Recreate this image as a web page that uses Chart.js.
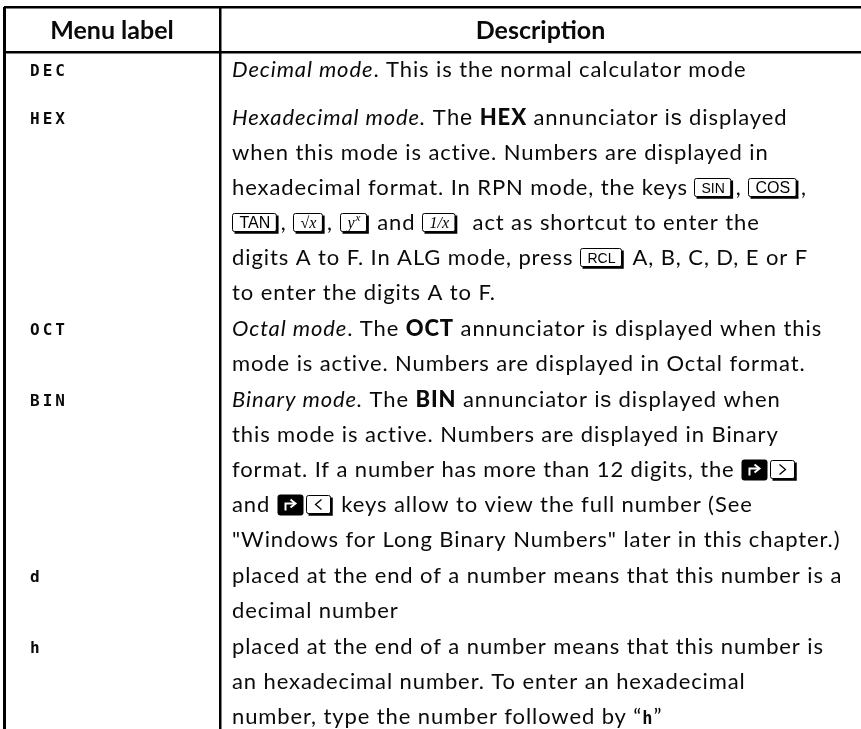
<!DOCTYPE html>
<html lang="en">
<head>
  <meta charset="UTF-8" />
  <title>Menu labels - number base modes</title>
  <script src="https://cdn.jsdelivr.net/npm/chart.js"></script>
  <style>
    html, body {
      margin: 0;
      padding: 0;
      background: #fff;
    }

    .chart-box {
      position: relative;
      width: 861px;
      height: 729px;
    }
  </style>
</head>
<body>
  <div class="chart-box">
    <canvas id="menuTable"></canvas>
  </div>

  <script>
    // --- data -------------------------------------------------------------
    const headers = ["Menu label", "Description"];

    const menuLabels = ["DEC", "HEX", "OCT", "BIN", "d", "h"];

    // one entry per row, broken into the same lines as the page.
    // plain strings, {i} italic, {b} bold, {a} other face, {lcd} display face,
    // {k} key, {m} math key (+ sup), {shift} shift key, {arrow} cursor key
    const descriptions = [
      [
        [{ i: "Decimal mode" }, ". This is the normal calculator mode"]
      ],
      [
        [{ i: "Hexadecimal mode." }, " ", { a: "The" }, " ", { b: "HEX" }, " annunciator ", { a: "is" }, " displayed"],
        ["when this mode is active. Numbers are displayed in"],
        ["hexadecimal format. In RPN mode, the keys ", { k: "SIN" }, ", ", { k: "COS", big: true }, ","],
        [{ k: "TAN", big: true }, ", ", { m: "\u221Ax" }, ", ", { m: "y", sup: "x" }, " and ", { m: "1/x" }, "  act as shortcut to enter the"],
        ["digits A to F. In ALG mode, press ", { k: "RCL" }, " A, B, C, D, E or F"],
        ["to enter the digits A to F."]
      ],
      [
        [{ i: "Octal mode" }, ". The ", { b: "OCT" }, " annunciator is displayed when this"],
        ["mode is active. Numbers are displayed in Octal format."]
      ],
      [
        [{ i: "Binary mode." }, " The ", { b: "BIN" }, " annunciator ", { a: "is" }, " displayed when"],
        ["this mode is active. Numbers are displayed in Binary"],
        ["format. If a number has more than 12 digits, the ", { shift: true }, { arrow: ">" }],
        ["and ", { shift: true }, { arrow: "<" }, " keys allow to view the full number (See"],
        ["\"Windows for Long Binary Numbers\" later in this chapter.)"]
      ],
      [
        ["placed at the end of a number means that this number is a"],
        ["decimal number"]
      ],
      [
        ["placed at the end of a number means that this number is"],
        ["an hexadecimal number. To enter an hexadecimal"],
        ["number, type the number followed by \u201C", { lcd: "h" }, "\u201D"]
      ]
    ];

    // --- layout -----------------------------------------------------------
    const pageW = 861, pageH = 729;
    const tableTop = 7, tableLeft = 4;
    const colDivider = 216;      // from the left border
    const headerH = 45;
    const firstLine = 63;        // centre of first body line, from table top
    const lineH = 35;
    const rowGaps = [13, 1, 1, 1, 1];

    const TXT = '#0a0a0a';
    const descFont = '22px Lato';
    const descSpacing = '0.9px';

    function segFont(s) {
      if (s.i) return 'italic 22px Lato';
      if (s.b) return '900 22px Lato';
      if (s.a) return '22px "Liberation Sans"';
      if (s.lcd) return 'bold 17px "DejaVu Sans Mono"';
      return descFont;
    }

    function drawKey(ctx, s, x, cy) {
      const h = 18;
      const top = Math.round(cy - 10) + 0.5;
      const left = Math.round(x) + 0.5;
      let w;
      ctx.save();
      ctx.letterSpacing = '0px';
      if (s.shift || s.arrow) {
        w = 26;
      } else {
        ctx.font = s.m ? 'italic 16px "Liberation Serif"'
          : (s.big ? '16px "Liberation Sans"' : '14px "Liberation Sans"');
        w = ctx.measureText(s.m || s.k).width + (s.sup ? 6 : 0) + 15;
      }
      if (s.shift) {
        ctx.fillStyle = '#000';
        ctx.beginPath();
        ctx.roundRect(left, top - 1, w, h + 3, 3);
        ctx.fill();
        ctx.strokeStyle = '#fff';
        ctx.lineWidth = 2;
        ctx.beginPath();
        ctx.moveTo(left + 8, top + h - 3);
        ctx.lineTo(left + 8, top + 8);
        ctx.lineTo(left + w - 9, top + 8);
        ctx.stroke();
        ctx.beginPath();
        ctx.moveTo(left + w - 13, top + 4);
        ctx.lineTo(left + w - 8, top + 8);
        ctx.lineTo(left + w - 13, top + 12);
        ctx.stroke();
      } else {
        ctx.strokeStyle = '#000';
        ctx.lineWidth = 1;
        ctx.beginPath();
        ctx.roundRect(left, top, w - 2, h, 2);
        ctx.stroke();
        ctx.lineWidth = 2.5;
        ctx.beginPath();
        ctx.moveTo(left + w - 1, top + 2);
        ctx.lineTo(left + w - 1, top + h + 1);
        ctx.lineTo(left + 2, top + h + 1);
        ctx.stroke();
        ctx.fillStyle = '#000';
        if (s.arrow) {
          ctx.lineWidth = 1.3;
          const mx = left + w / 2 - 1, my = top + h / 2;
          const d = s.arrow === '>' ? 1 : -1;
          ctx.beginPath();
          ctx.moveTo(mx - 3 * d, my - 5);
          ctx.lineTo(mx + 3 * d, my);
          ctx.lineTo(mx - 3 * d, my + 5);
          ctx.stroke();
        } else {
          ctx.textBaseline = 'alphabetic';
          const t = s.m || s.k;
          const base = top + h - 4;
          ctx.fillText(t, left + 7, base);
          if (s.sup) {
            const tw = ctx.measureText(t).width;
            ctx.font = 'italic 11px "Liberation Serif"';
            ctx.fillText(s.sup, left + 7 + tw + 1, base - 7);
          }
        }
      }
      ctx.restore();
      return w + 3;
    }

    function drawRich(ctx, segs, x, cy) {
      const base = cy + 7;
      ctx.letterSpacing = descSpacing;
      for (const s of segs) {
        if (typeof s === 'string') {
          ctx.font = descFont;
          ctx.fillText(s, x, base);
          x += ctx.measureText(s).width;
        } else if (s.i || s.b || s.a || s.lcd) {
          const t = s.i || s.b || s.a || s.lcd;
          ctx.font = segFont(s);
          ctx.fillText(t, x, base);
          x += ctx.measureText(t).width;
        } else {
          x += drawKey(ctx, s, x, cy);
        }
      }
      ctx.letterSpacing = '0px';
    }

    // draws header, labels and descriptions at positions taken from the scales
    const tableText = {
      id: 'tableText',
      afterDraw(chart) {
        const { ctx, scales: { x, y } } = chart;
        ctx.save();
        ctx.fillStyle = TXT;
        ctx.textBaseline = 'alphabetic';

        // header
        ctx.font = 'bold 25px Lato';
        ctx.textAlign = 'center';
        const hy = y.getPixelForValue(headerH / 2) + 9;
        ctx.fillText(headers[0], (x.getPixelForValue(0) + x.getPixelForValue(colDivider)) / 2, hy);
        ctx.fillText(headers[1], (x.getPixelForValue(colDivider) + x.right) / 2, hy);
        ctx.textAlign = 'left';

        const labelX = x.getPixelForValue(26);
        const descX = x.getPixelForValue(colDivider + 12);
        let v = firstLine;
        menuLabels.forEach((label, r) => {
          if (r > 0) v += rowGaps[r - 1];
          const cy = y.getPixelForValue(v);
          ctx.font = 'bold 16px "DejaVu Sans Mono"';
          ctx.letterSpacing = '3px';
          ctx.fillText(label, labelX, cy + 6);
          ctx.letterSpacing = '0px';
          descriptions[r].forEach(line => {
            drawRich(ctx, line, descX, y.getPixelForValue(v));
            v += lineH;
          });
        });
        ctx.restore();
      }
    };

    new Chart(document.getElementById('menuTable'), {
      type: 'scatter',
      data: { datasets: [] },
      options: {
        responsive: true,
        maintainAspectRatio: false,
        animation: false,
        layout: { padding: { top: tableTop, left: tableLeft, right: 0, bottom: 0 } },
        plugins: { legend: { display: false }, tooltip: { enabled: false } },
        scales: {
          x: {
            type: 'linear',
            min: 0,
            max: pageW - tableLeft,
            afterBuildTicks: s => { s.ticks = [{ value: 0 }, { value: colDivider }]; },
            ticks: { display: false },
            grid: {
              color: '#000',
              lineWidth: ctx => ctx.index === 0 ? 3 : 2.5,
              drawTicks: false
            },
            border: { display: false }
          },
          y: {
            type: 'linear',
            reverse: true,
            min: 0,
            max: pageH - tableTop,
            afterBuildTicks: s => { s.ticks = [{ value: 0 }, { value: headerH }]; },
            ticks: { display: false },
            grid: { color: '#000', lineWidth: 2.5, drawTicks: false },
            border: { display: false }
          }
        }
      },
      plugins: [tableText]
    });
  </script>
</body>
</html>
